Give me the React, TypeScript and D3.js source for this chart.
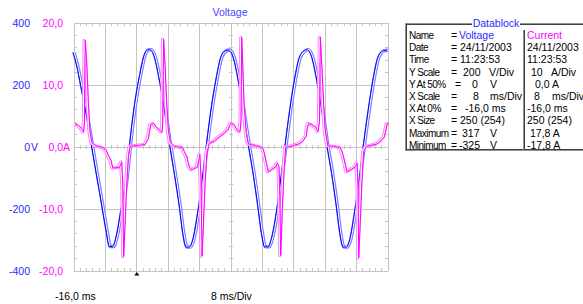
import React from 'react';
import * as d3 from 'd3';

// time in ms, voltage in V
const voltageSamples: [number, number][] = [
  [-16.0, 305], [-15.2, 270], [-14.0, 195], [-12.7, 110], [-11.4, 13], [-10.1, -84], [-8.9, -171],
  [-7.6, -268], [-6.75, -321], [-5.9, -321], [-5.0, -289], [-3.8, -203], [-2.5, -106], [-1.65, 0],
  [-0.4, 130], [0.9, 227], [2.15, 297], [3.0, 313], [3.6, 314], [4.7, 291], [6.0, 216], [7.3, 119],
  [8.55, 13], [9.8, -84], [11.1, -193], [11.95, -277], [12.8, -323], [13.6, -323], [14.5, -300],
  [15.75, -213], [17.0, -96], [18.05, 13], [19.15, 119], [20.4, 216], [21.7, 291], [22.9, 311],
  [23.6, 313], [24.8, 290], [26.1, 214], [27.3, 118], [28.6, 12], [29.9, -86], [31.1, -192],
  [32.0, -277], [32.8, -322], [33.7, -322], [34.5, -298], [35.8, -212], [37.0, -97], [38.1, 12],
  [39.2, 118], [40.4, 215], [41.7, 290], [43.0, 311], [43.6, 314], [44.8, 291], [46.1, 215],
  [47.4, 118], [48.6, 12], [49.9, -85], [51.1, -192], [51.95, -276], [52.8, -323], [53.6, -323],
  [54.5, -299], [55.7, -212], [57.0, -96], [58.05, 12], [59.2, 118], [60.4, 215], [61.7, 290],
  [63.0, 310], [64.0, 312],
];

// time in ms, current in A
const currentSamples: [number, number][] = [
  [-16.0, 3.7], [-15.2, 3.5], [-14.4, 3.0], [-13.8, 2.4], [-13.6, 4.0], [-13.4, 17.2], [-13.0, 13.5],
  [-12.6, 7.2], [-12.2, 2.6], [-11.7, 0.7], [-10.7, 0.2], [-8.9, -0.1], [-8.1, -0.5], [-7.4, -1.5],
  [-6.8, -2.2], [-6.4, -3.4], [-4.7, -3.3], [-4.1, -2.4], [-3.85, -5.5], [-3.6, -17.7], [-3.25, -12.5],
  [-2.85, -6.5], [-2.4, -1.5], [-2.0, 0.1], [-1.0, 0.2], [0.5, 0.3], [1.8, 0.4], [2.3, 0.9], [2.7, 1.4],
  [3.0, 2.6], [3.3, 3.6],
  [4.0, 3.8], [4.6, 3.3], [5.5, 2.7], [6.2, 2.4], [6.35, 4.0], [6.57, 17.4], [6.95, 13.0], [7.35, 7.1],
  [7.8, 2.6], [8.3, 0.7], [9.3, 0.1], [11.4, -0.1], [11.8, -0.7], [12.5, -1.6], [13.1, -3.2],
  [13.6, -3.7], [15.2, -3.2], [15.8, -1.2], [16.1, -5.0], [16.36, -17.6], [16.7, -12.8], [17.1, -6.4],
  [17.6, -1.0], [18.2, 0.6], [19.4, 0.9], [20.7, 1.6], [22.0, 2.2], [23.1, 2.9], [23.4, 3.5],
  [23.7, 3.8], [24.5, 3.6], [25.35, 2.7], [26.04, 2.5], [26.3, 4.2], [26.47, 17.7], [26.75, 13.0],
  [27.06, 7.0], [27.64, 2.2], [28.15, 0.5], [30.04, 0.2], [31.72, -0.1], [32.15, -0.8], [32.59, -2.1],
  [33.25, -4.0], [35.13, -3.2], [35.54, -2.6], [35.97, -3.2], [36.2, -8.0], [36.4, -17.5], [36.82, -10.0],
  [37.25, -4.0], [37.68, 0.0], [38.52, 0.0], [39.8, 0.3], [41.07, 0.5], [42.09, 1.0], [42.93, 1.8],
  [43.2, 3.2],
  [43.54, 3.8], [44.38, 3.6], [45.22, 3.2], [45.91, 2.5], [46.3, 4.2], [46.5, 17.7], [46.93, 12.5],
  [47.36, 6.6], [47.77, 2.6], [48.38, 0.2], [49.91, 0.1], [51.59, -0.1], [52.02, -0.7], [52.61, -2.1],
  [53.3, -4.0], [55.41, -3.2], [55.85, -2.6], [56.1, -6.0], [56.28, -17.9], [56.69, -12.0], [57.12, -5.4],
  [57.55, -0.7], [58.22, 0.1], [59.67, 0.3], [60.94, 0.5], [61.96, 1.0], [62.8, 1.6], [63.3, 3.0],
  [63.49, 3.7], [64.0, 3.8],
];

const voltageTicks = [400, 200, 0, -200, -400];
const voltageTickLabels = ['400', '200', '0', '-200', '-400'];
const currentTickLabels = ['20,0', '10,0', '0,0', '-10,0', '-20,0'];

const dbLabels = ['Name', 'Date', 'Time', 'Y Scale', 'Y At 50%', 'X Scale', 'X At 0%', 'X Size', 'Maximum', 'Minimum'];
const dbVoltage = [['Voltage'], ['24/11/2003'], ['11:23:53'], ['200', 'V/Div'], ['0', 'V'], ['8', 'ms/Div'], ['-16,0 ms'], ['250 (254)'], ['317', 'V'], ['-325', 'V']];
const dbCurrent = [['Current'], ['24/11/2003'], ['11:23:53'], ['10', 'A/Div'], ['0,0 A'], ['8', 'ms/Div'], ['-16,0 ms'], ['250 (254)'], ['17,8 A'], ['-17,8 A']];

const FONT = '"Liberation Sans", Arial, sans-serif';
const BLUE = '#2a2aff';
const MAGENTA = '#ff00ff';
const GRID = '#c4c4c4';

export default function App() {
  const W = 583, H = 304;
  const left = 74, right = 388, top = 23, bottom = 271;

  const x = d3.scaleLinear().domain([-16, 64]).range([left, right]);
  const yV = d3.scaleLinear().domain([-400, 400]).range([bottom, top]);
  const yI = d3.scaleLinear().domain([-20, 20]).range([bottom, top]);

  const vLine = d3.line<[number, number]>().x(d => x(d[0])).y(d => yV(d[1])).curve(d3.curveMonotoneX)(voltageSamples) || '';
  const iLine = d3.line<[number, number]>().x(d => x(d[0])).y(d => yI(d[1]))(currentSamples) || '';

  const majorX = d3.range(-16, 64.01, 8);
  const minorX = d3.range(-16, 64.01, 1.6);
  const minorY = d3.range(-400, 400.01, 40);

  // data block column layout
  const rowY = (i: number) => 35 + i * 12.2 + 4;
  const eqX = [451, 451, 451, 451, 455, 451, 451, 451, 451, 451];
  const vCols = [[459], [460], [460], [463, 489], [472, 490], [473, 490], [465], [460], [462, 490], [459, 490]];
  const iCols = [[527], [527], [527], [531, 551], [535], [534, 552], [527], [527], [530], [527]];

  return (
    <svg width={W} height={H} style={{ position: 'absolute', left: 0, top: 0, background: '#fff' }} fontFamily={FONT}>
      <rect width={W} height={H} fill="#fff" />

      {/* grid */}
      <g stroke={GRID} strokeWidth={1} shapeRendering="crispEdges">
        {majorX.map(t => <line key={'gx' + t} x1={x(t)} x2={x(t)} y1={top} y2={bottom} />)}
        {voltageTicks.map(v => <line key={'gy' + v} x1={left} x2={right} y1={yV(v)} y2={yV(v)} />)}
        {minorX.map(t => (
          <g key={'mx' + t}>
            <line x1={x(t)} x2={x(t)} y1={top} y2={top + 3} />
            <line x1={x(t)} x2={x(t)} y1={bottom - 3} y2={bottom} />
            <line x1={x(t)} x2={x(t)} y1={yV(0) - 2} y2={yV(0) + 2} />
          </g>
        ))}
        {minorY.map(v => (
          <g key={'my' + v}>
            <line x1={left} x2={left + 3} y1={yV(v)} y2={yV(v)} />
            <line x1={right - 3} x2={right} y1={yV(v)} y2={yV(v)} />
            <line x1={x(24) - 2} x2={x(24) + 2} y1={yV(v)} y2={yV(v)} />
          </g>
        ))}
      </g>

      {/* voltage trace */}
      <path d={vLine} fill="none" stroke="#7a7aff" strokeWidth={3.4} strokeLinejoin="round" />
      <path d={vLine} fill="none" stroke="#ffffff" strokeWidth={1.1} strokeLinejoin="round" />
      <path d={vLine} fill="none" stroke="#0000ff" strokeWidth={1} transform="translate(-1,0)" />

      {/* current trace */}
      <path d={iLine} fill="none" stroke="#ff88ff" strokeWidth={3.2} strokeLinejoin="round" />
      <path d={iLine} fill="none" stroke="#ffffff" strokeWidth={1.1} strokeLinejoin="round" />
      <path d={iLine} fill="none" stroke={MAGENTA} strokeWidth={1} transform="translate(1,0)" />

      {/* y labels */}
      <g fontSize={10.5}>
        {voltageTicks.map((v, i) => (
          <g key={'yl' + v}>
            <text x={30} y={yV(v) + 4} fill={BLUE} textAnchor="end">{voltageTickLabels[i]}</text>
            <text x={63} y={yV(v) + 4} fill={MAGENTA} textAnchor="end">{currentTickLabels[i]}</text>
          </g>
        ))}
        <text x={31} y={yV(0) + 4} fill={BLUE}>V</text>
        <text x={63} y={yV(0) + 4} fill={MAGENTA}>A</text>
      </g>

      <text x={230} y={16} fill="#4848ff" fontSize={10.5} textAnchor="middle">Voltage</text>

      {/* trigger marker and x labels */}
      <path d={`M${x(0)},${bottom + 1} l-2.5,3.5 h5 z`} fill="#000" />
      <text x={55} y={300} fontSize={10.5} fill="#000">-16,0 ms</text>
      <text x={211} y={300} fontSize={10.5} fill="#000">8 ms/Div</text>

      {/* data block */}
      <g shapeRendering="crispEdges">
        <rect x={405.5} y={23.5} width={200} height={127} fill="none" stroke="#909090" strokeWidth={1} />
        <rect x={406.5} y={24.5} width={200} height={125} fill="none" stroke="#404040" strokeWidth={1} />
        <line x1={523.5} x2={523.5} y1={30} y2={150} stroke="#909090" />
        <line x1={524.5} x2={524.5} y1={30} y2={150} stroke="#404040" />
      </g>
      <rect x={472} y={17} width={48} height={12} fill="#fff" />
      <text x={496} y={27} fontSize={10.5} fill={BLUE} textAnchor="middle">Datablock</text>
      <g fontSize={10.5} fill="#000">
        {dbLabels.map((l, i) => <text key={'l' + i} x={409} y={rowY(i)} fontSize={10} style={{ letterSpacing: '-0.55px' }}>{l}</text>)}
        {eqX.map((ex, i) => <text key={'e' + i} x={ex} y={rowY(i)}>=</text>)}
        {dbVoltage.map((parts, i) => parts.map((p, j) => (
          <text key={'v' + i + j} x={vCols[i][j]} y={rowY(i)} fill={i === 0 ? BLUE : '#000'}>{p}</text>
        )))}
        {dbCurrent.map((parts, i) => parts.map((p, j) => (
          <text key={'c' + i + j} x={iCols[i][j]} y={rowY(i)} fill={i === 0 ? MAGENTA : '#000'}>{p}</text>
        )))}
      </g>
    </svg>
  );
}
